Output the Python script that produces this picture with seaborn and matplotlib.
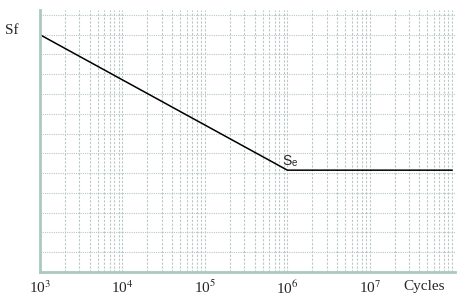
import numpy as np
import pandas as pd
import matplotlib
matplotlib.use('Agg')
import matplotlib.pyplot as plt
import seaborn as sns

# S-N curve (schematic), strength in grid units
cycles = [1e3, 1e6, 1e8]
strength = [12.0, 5.15, 5.15]
decades = [1e3, 1e4, 1e5, 1e6, 1e7, 1e8]
tick_pos = [1e3, 1e4, 1e5, 1e6, 1e7]
tick_labels = ['10$^{3}$', '10$^{4}$', '10$^{5}$', '10$^{6}$', '10$^{7}$']
h_grid = list(range(1, 14))

sns.set_style('white')
plt.rcParams['font.family'] = ['Liberation Serif', 'DejaVu Serif']
plt.rcParams['mathtext.fontset'] = 'stix'

fig = plt.figure(figsize=(4.62, 2.98), dpi=100)
ax = fig.add_axes([40 / 462, 26 / 298, 415 / 462, 262 / 298])

grid_col = '#b7c9c6'
# minor vertical grid (2..9 x 10^n) plus decades
minor = [m * d for d in decades[:-1] for m in range(2, 10)]
for x in minor + decades:
    ax.axvline(x, color=grid_col, lw=0.8, ls=(0, (2, 1.5)), zorder=0)
for y in h_grid:
    ax.axhline(y, color=grid_col, lw=0.8, ls=(0, (1, 1)), zorder=0)

df = pd.DataFrame({'cycles': cycles, 'strength': strength})
sns.lineplot(data=df, x='cycles', y='strength', color='black', lw=1.1, ax=ax)

ax.set_xscale('log')
ax.set_xlim(1e3, 1.08e8)
ax.set_ylim(0, 13.25)
ax.set_xticks(tick_pos)
ax.set_xticklabels(tick_labels, fontsize=11)
ax.minorticks_off()
ax.set_yticks([])
ax.tick_params(axis='x', length=0, pad=5)
ax.set_xlabel('')
ax.set_ylabel('')

for s in ['top', 'right']:
    ax.spines[s].set_visible(False)
for s in ['left', 'bottom']:
    ax.spines[s].set_color('#a9c9c1')
    ax.spines[s].set_linewidth(2)

ax.text(4.6e7, -0.4, 'Cycles', fontsize=11, ha='center', va='top')
ax.text(-0.085, 11.9, 'Sf', transform=ax.get_yaxis_transform(), fontsize=11, va='bottom', ha='left')
ax.text(0.86e6, 5.2, 'S$_\\mathregular{e}$', fontsize=10, va='bottom', ha='left',
        family=['Liberation Sans', 'DejaVu Sans'])

plt.savefig('out.png', dpi=100)
